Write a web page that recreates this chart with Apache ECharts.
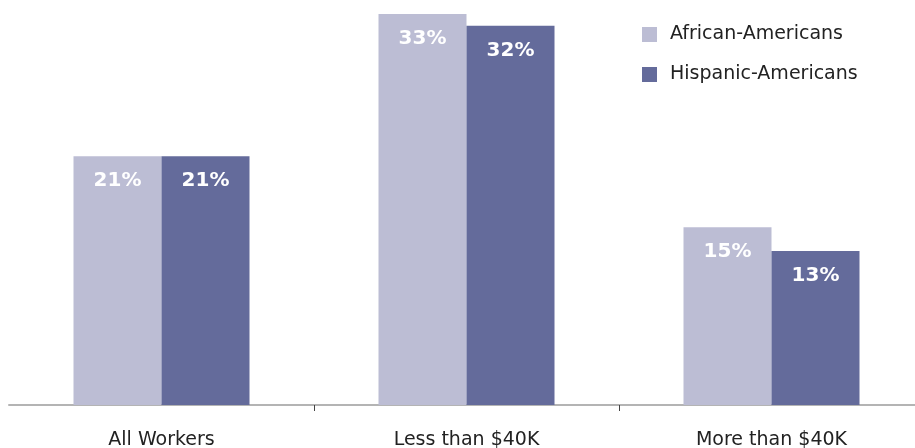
<!DOCTYPE html>
<html>
<head>
<meta charset="utf-8">
<script src="https://cdn.jsdelivr.net/npm/echarts@6/dist/echarts.min.js"></script>
<style>html,body{margin:0;padding:0;background:#fff;}#c{width:915px;height:448px;}</style>
</head>
<body>
<div id="c"></div>
<script>
const categories = ['All Workers', 'Less than $40K', 'More than $40K'];
const seriesNames = ['African-Americans', 'Hispanic-Americans'];
const africanAmericans = [21, 33, 15];
const hispanicAmericans = [21, 32, 13];

const chart = echarts.init(document.getElementById('c'), null, {renderer: 'canvas'});
const labelStyle = {
  show: true,
  position: 'insideTop',
  distance: 15,
  color: '#ffffff',
  fontFamily: 'DejaVu Sans',
  fontWeight: 'bold',
  fontSize: 20,
  formatter: p => p.value + '%'
};
chart.setOption({
  animation: false,
  backgroundColor: '#ffffff',
  grid: {left: 9, width: 915, top: 14, bottom: 43, containLabel: false, outerBoundsMode: 'none'},
  legend: {
    orient: 'vertical',
    left: 642,
    top: 25,
    padding: 0,
    itemWidth: 15,
    itemHeight: 15,
    itemGap: 21,
    icon: 'rect',
    textStyle: {fontFamily: 'DejaVu Sans', fontSize: 19, lineHeight: 16, color: '#222222', padding: [0, 0, 0, 8]},
    data: seriesNames
  },
  xAxis: {
    type: 'category',
    data: categories,
    axisLine: {lineStyle: {color: '#b4b4b4', width: 2}},
    axisTick: {show: true, length: 6, interval: (i) => i >= 1, lineStyle: {color: '#444444', width: 1}},
    axisLabel: {interval: 0, margin: 26, fontFamily: 'DejaVu Sans', fontSize: 19, color: '#222222'}
  },
  yAxis: {type: 'value', min: 0, max: 33, show: false, splitLine: {show: false}},
  series: [
    {name: seriesNames[0], type: 'bar', data: africanAmericans, barWidth: 88, barGap: '0%',
     itemStyle: {color: '#bcbdd4'}, label: labelStyle},
    {name: seriesNames[1], type: 'bar', data: hispanicAmericans, barWidth: 88, barGap: '0%',
     itemStyle: {color: '#646b9b'}, label: labelStyle}
  ]
});
</script>
</body>
</html>
